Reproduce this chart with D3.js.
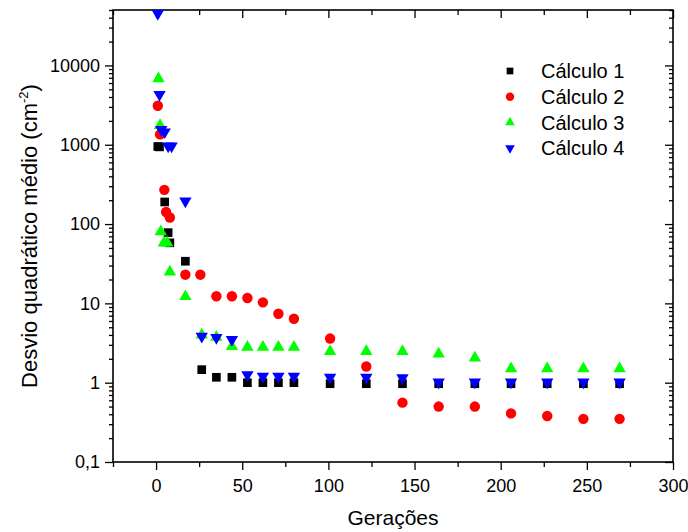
<!DOCTYPE html>
<html>
<head>
<meta charset="utf-8">
<script src="https://cdn.jsdelivr.net/npm/d3@7"></script>
<style>
  body { margin: 0; background: #fff; }
  svg { font-family: Arial, "Liberation Sans", sans-serif; }
</style>
</head>
<body>
<div id="chart"></div>
<script>
// dados
const calc1X = [1, 2, 5, 7, 8, 17, 26.5, 35, 44, 53, 62, 71, 80, 101, 122, 143, 164, 185, 206, 227, 248, 269];
const calc1Y = [950, 940, 190, 78, 58, 34, 1.46, 1.17, 1.17, 1.0, 1.0, 1.0, 1.0, 0.97, 0.97, 0.97, 0.97, 0.97, 0.97, 0.97, 0.97, 0.97];

const calc2X = [1, 2.3, 4.8, 5.8, 8, 17, 25.7, 35, 44, 53, 62, 71, 80, 101, 122, 143, 164, 185, 206, 227, 248, 269];
const calc2Y = [3100, 1350, 270, 142, 121, 23, 23, 12.3, 12.3, 11.7, 10.3, 7.4, 6.4, 3.6, 1.6, 0.56, 0.5, 0.5, 0.41, 0.38, 0.35, 0.35];

const calc3X = [1.4, 2.3, 2.7, 4.5, 6.5, 8, 17, 26.5, 35, 44, 53, 62, 71, 80, 101, 122, 143, 164, 185, 206, 227, 248, 269];
const calc3Y = [6800, 1750, 80, 58, 58, 25, 12.2, 4.0, 3.75, 2.87, 2.8, 2.8, 2.8, 2.8, 2.48, 2.48, 2.48, 2.3, 2.05, 1.5, 1.5, 1.5, 1.5];

const calc4X = [1, 2, 3, 5, 7, 9, 17, 26.5, 35, 44, 53, 62, 71, 80, 101, 122, 143, 164, 185, 206, 227, 248, 269];
const calc4Y = [45000, 4300, 1550, 1450, 960, 960, 195, 3.85, 3.7, 3.5, 1.26, 1.2, 1.2, 1.2, 1.17, 1.17, 1.15, 1.02, 1.02, 1.02, 1.02, 1.02, 1.02];

const seriesNames = ['Cálculo 1', 'Cálculo 2', 'Cálculo 3', 'Cálculo 4'];
const seriesColors = ['#000000', '#ff0000', '#00ff00', '#0000ff'];

const xMajorTicks = [0, 50, 100, 150, 200, 250, 300];
const xMinorTicks = [-25, 25, 75, 125, 175, 225, 275];
const yMajorTicks = [0.1, 1, 10, 100, 1000, 10000];
const yTickLabels = ['0,1', '1', '10', '100', '1000', '10000'];

const width = 688;
const height = 532;
const margin = { top: 10, right: 15, bottom: 70, left: 113 };

const svg = d3.select('#chart')
  .append('svg')
  .attr('width', width)
  .attr('height', height);

// escalas
const x = d3.scaleLinear()
  .domain([-25, 300])
  .range([margin.left, width - margin.right]);

const y = d3.scaleLog()
  .domain([0.1, 50000])
  .range([height - margin.bottom, margin.top]);

const x0 = x.range()[0], x1 = x.range()[1];
const y0 = y.range()[0], y1 = y.range()[1];

// ticks menores do eixo log
const yMinorTicks = [];
for (let e = -1; e <= 4; e++) {
  for (let m = 2; m <= 9; m++) {
    const v = m * Math.pow(10, e);
    if (v <= 50000) yMinorTicks.push(v);
  }
}

function styleAxis(g) {
  g.select('.domain').remove();
  g.selectAll('line').attr('stroke', '#000').attr('stroke-width', 1.3);
}

// eixo inferior
svg.append('g')
  .attr('transform', `translate(0, ${y0})`)
  .call(d3.axisBottom(x).tickValues(xMajorTicks).tickSize(8).tickPadding(9).tickFormat(d3.format('d')))
  .call(styleAxis)
  .call(g => g.selectAll('text').attr('font-size', 18).attr('fill', '#000').attr('font-family', 'Arial, "Liberation Sans", sans-serif'));
svg.append('g')
  .attr('transform', `translate(0, ${y0})`)
  .call(d3.axisBottom(x).tickValues(xMinorTicks).tickSize(5).tickFormat(''))
  .call(styleAxis);

// eixo superior (ticks para dentro)
svg.append('g')
  .attr('transform', `translate(0, ${y1})`)
  .call(d3.axisBottom(x).tickValues(xMajorTicks).tickSize(8).tickFormat(''))
  .call(styleAxis);
svg.append('g')
  .attr('transform', `translate(0, ${y1})`)
  .call(d3.axisBottom(x).tickValues(xMinorTicks).tickSize(5).tickFormat(''))
  .call(styleAxis);

// eixo esquerdo
svg.append('g')
  .attr('transform', `translate(${x0}, 0)`)
  .call(d3.axisLeft(y).tickValues(yMajorTicks).tickSize(8).tickPadding(5)
    .tickFormat((d, i) => yTickLabels[i]))
  .call(styleAxis)
  .call(g => g.selectAll('text').attr('font-size', 18).attr('fill', '#000').attr('font-family', 'Arial, "Liberation Sans", sans-serif'));
svg.append('g')
  .attr('transform', `translate(${x0}, 0)`)
  .call(d3.axisLeft(y).tickValues(yMinorTicks).tickSize(4).tickFormat(''))
  .call(styleAxis);

// eixo direito (ticks para dentro)
svg.append('g')
  .attr('transform', `translate(${x1}, 0)`)
  .call(d3.axisLeft(y).tickValues(yMajorTicks).tickSize(8).tickFormat(''))
  .call(styleAxis);
svg.append('g')
  .attr('transform', `translate(${x1}, 0)`)
  .call(d3.axisLeft(y).tickValues(yMinorTicks).tickSize(4).tickFormat(''))
  .call(styleAxis);

// moldura
svg.append('rect')
  .attr('x', x0)
  .attr('y', y1)
  .attr('width', x1 - x0)
  .attr('height', y0 - y1)
  .attr('fill', 'none')
  .attr('stroke', '#000')
  .attr('stroke-width', 1.6);

// pontos
const series = [
  { xs: calc1X, ys: calc1Y, type: d3.symbolSquare, size: 75, rot: 0 },
  { xs: calc2X, ys: calc2Y, type: d3.symbolCircle, size: 85, rot: 0 },
  { xs: calc3X, ys: calc3Y, type: d3.symbolTriangle, size: 66, rot: 0 },
  { xs: calc4X, ys: calc4Y, type: d3.symbolTriangle, size: 66, rot: 180 }
];

series.forEach((s, i) => {
  const pts = s.xs.map((v, j) => ({ x: v, y: s.ys[j] }));
  svg.append('g')
    .selectAll('path')
    .data(pts)
    .join('path')
    .attr('d', d3.symbol().type(s.type).size(s.size))
    .attr('transform', d => `translate(${x(d.x)}, ${y(d.y)}) rotate(${s.rot})`)
    .attr('fill', seriesColors[i]);
});

// legenda
const legendSizes = [45, 55, 40, 40];
const legend = svg.append('g');
seriesNames.forEach((name, i) => {
  const ly = 71 + i * 25.7;
  legend.append('path')
    .attr('d', d3.symbol().type(series[i].type).size(legendSizes[i]))
    .attr('transform', `translate(510, ${ly}) rotate(${series[i].rot})`)
    .attr('fill', seriesColors[i]);
  legend.append('text')
    .attr('x', 541)
    .attr('y', ly)
    .attr('dy', '0.36em')
    .attr('font-size', 20)
    .text(name);
});

// títulos dos eixos
svg.append('text')
  .attr('x', (x0 + x1) / 2)
  .attr('y', 525)
  .attr('text-anchor', 'middle')
  .attr('font-size', 21)
  .text('Gerações');

const yTitle = svg.append('text')
  .attr('transform', `translate(37, ${(y0 + y1) / 2}) rotate(-90)`)
  .attr('text-anchor', 'middle')
  .attr('font-size', 22);
yTitle.append('tspan').text('Desvio quadrático médio (cm');
yTitle.append('tspan').attr('font-size', 13).attr('dy', -9).text('-2');
yTitle.append('tspan').attr('dy', 9).text(')');
</script>
</body>
</html>
